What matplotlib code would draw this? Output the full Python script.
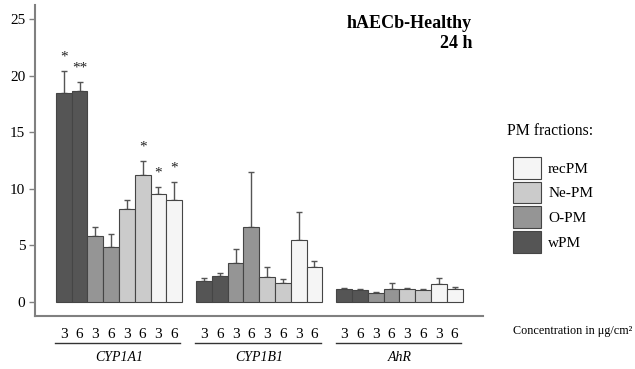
import matplotlib
matplotlib.use("Agg")
import matplotlib.pyplot as plt
import numpy as np
from matplotlib.lines import Line2D

plt.rcParams['font.family'] = ['Liberation Serif', 'DejaVu Serif']

genes = ["CYP1A1", "CYP1B1", "AhR"]
fractions = ["wPM", "O-PM", "Ne-PM", "recPM"]
concs = ["3", "6"]
colors = ["#555555", "#959595", "#cbcbcb", "#f5f5f5"]

# values per gene, order: wPM3, wPM6, O-PM3, O-PM6, Ne-PM3, Ne-PM6, recPM3, recPM6
means = {
    "CYP1A1": [18.5, 18.6, 5.8, 4.9, 8.2, 11.2, 9.5, 9.0],
    "CYP1B1": [1.88, 2.29, 3.41, 6.6, 2.24, 1.71, 5.44, 3.12],
    "AhR":    [1.12, 1.06, 0.82, 1.12, 1.12, 1.06, 1.59, 1.12],
}
upper = {
    "CYP1A1": [20.4, 19.4, 6.6, 6.0, 9.0, 12.5, 10.15, 10.6],
    "CYP1B1": [2.15, 2.53, 4.7, 11.5, 3.06, 2.0, 7.91, 3.65],
    "AhR":    [1.26, 1.15, 0.91, 1.65, 1.2, 1.15, 2.09, 1.29],
}
stars = {
    "CYP1A1": ["*", "**", "", "", "", "*", "*", "*"],
    "CYP1B1": [""] * 8,
    "AhR": [""] * 8,
}

fig = plt.figure(figsize=(6.35, 3.69), dpi=100)
ax = fig.add_axes([35/635, 1-316/369, 448/635, 311/369])

group_step = 8.9
tick_pos = []
tick_lab = []
handles = {}
for g, gene in enumerate(genes):
    m = means[gene]
    u = upper[gene]
    for j in range(8):
        x = g * group_step + j + 0.5
        fi = j // 2
        b = ax.bar(x, m[j], width=1.0, color=colors[fi], edgecolor="#454545",
                   linewidth=0.8, zorder=3)
        handles[fractions[fi]] = b[0]
        err = u[j] - m[j]
        ax.errorbar(x, m[j], yerr=[[0], [err]], fmt="none", ecolor="#555555",
                    elinewidth=1.0, capsize=2, capthick=1.0, zorder=2)
        if stars[gene][j]:
            ax.annotate(stars[gene][j], (x, u[j]), xytext=(0, 10),
                        textcoords="offset points", ha="center", va="center",
                        fontsize=11, color="#222222")
        tick_pos.append(x)
        tick_lab.append(concs[j % 2])
    # underline and gene label
    x0 = g * group_step - 0.05
    x1 = g * group_step + 7.9
    ax.add_line(Line2D([x0, x1], [-3.6, -3.6], color="#333333", lw=1.0,
                       clip_on=False, transform=ax.transData))
    ax.text(g * group_step + 4, -4.9, gene, ha="center", va="center",
            fontsize=10, style="italic", clip_on=False)

ax.set_xlim(-1.33, 27.1)
ax.set_ylim(-1.24, 26.24)
ax.set_yticks([0, 5, 10, 15, 20, 25])
ax.set_xticks(tick_pos)
ax.set_xticklabels(tick_lab, fontsize=11)
ax.tick_params(axis="x", length=0, pad=9)
ax.tick_params(axis="y", length=4, width=1, color="#808080", labelsize=11,
               pad=3)
for s in ["top", "right"]:
    ax.spines[s].set_visible(False)
for s in ["left", "bottom"]:
    ax.spines[s].set_color("#808080")
    ax.spines[s].set_linewidth(1.5)

fig.text(472/635, 1-23/369, "hAECb-Healthy", ha="right", va="center",
         fontsize=13, fontweight="bold")
fig.text(472/635, 1-44/369, "24 h", ha="right", va="center",
         fontsize=13, fontweight="bold")
fig.text(507/635, 1-131/369, "PM fractions:", ha="left", va="center",
         fontsize=11.3)
fig.text(513/635, 1-331/369, "Concentration in \u03bcg/cm\u00b2", ha="left",
         va="center", fontsize=8.7)

order = ["recPM", "Ne-PM", "O-PM", "wPM"]
fig.legend([handles[k] for k in order], order, loc="upper left",
           bbox_to_anchor=(513/635, 1-157/369), frameon=False, fontsize=11,
           handlelength=1.8, handleheight=1.8, labelspacing=0.2,
           handletextpad=0.5, borderpad=0, borderaxespad=0)

fig.savefig("out.png", dpi=100)
